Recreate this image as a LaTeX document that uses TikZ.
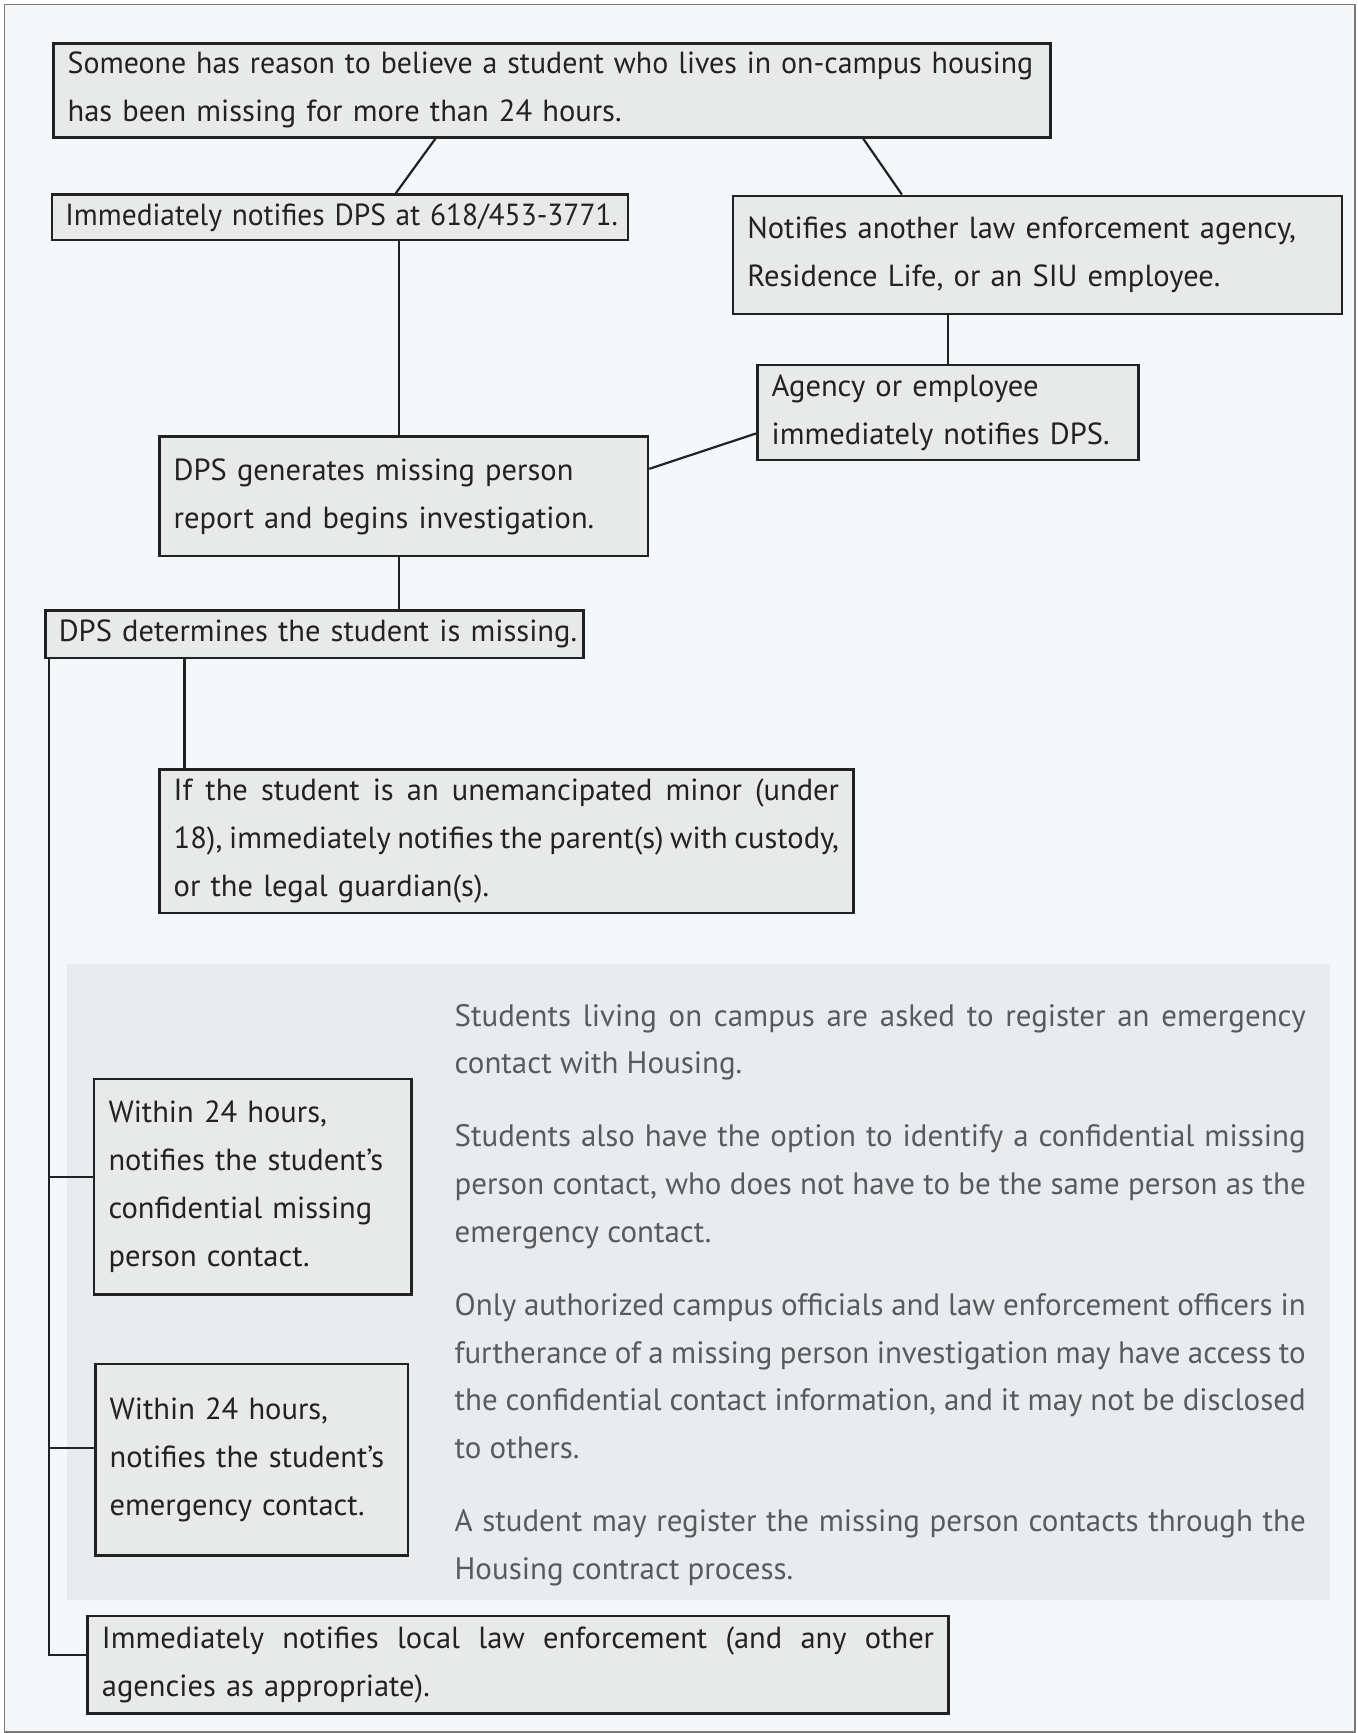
\documentclass[tikz,border=0pt]{standalone}
\usepackage{fontspec}
\setmainfont{PT Sans}
\definecolor{pagebg}{HTML}{F5F8FB}
\definecolor{framec}{HTML}{7A7A7A}
\definecolor{boxfill}{HTML}{E8E9E9}
\definecolor{boxline}{HTML}{222222}
\definecolor{panelfill}{HTML}{E8ECEF}
\definecolor{paneltext}{HTML}{5A5A5A}
\newcommand\bxfont{\fontsize{13.8}{21.65}\selectfont\hyphenpenalty=10000\exhyphenpenalty=10000}
\newcommand\pnfont{\fontsize{14}{21.65}\selectfont\hyphenpenalty=10000\exhyphenpenalty=10000}
\newcommand\ml[1]{\mbox{#1}}
\newcommand\sq[2]{\scalebox{#1}[1]{#2}}
\newcommand\jl[2]{\leavevmode\hbox to #1{\spaceskip=\fontdimen2\font plus 1fil minus .45\fontdimen2\font
  \xspaceskip=\spaceskip\relax #2}}
\begin{document}
\begin{tikzpicture}[x=0.5pt,y=-0.5pt,
  box/.style={draw=boxline, fill=boxfill, line width=1.2pt, inner xsep=6.5pt, inner ysep=0pt,
    align=left, anchor=north west, font=\bxfont, text=boxline},
  conn/.style={draw=boxline, line width=1pt}]
\useasboundingbox (0,0) rectangle (1228,1568);
\fill[white] (0,0) rectangle (1228,1568);
\draw[framec, fill=pagebg, line width=0.6pt] (4,4) rectangle (1226,1567);
\fill[panelfill] (61,872) rectangle (1203,1448);

\node[box, minimum width=451pt, minimum height=42.5pt, text width=438pt] (A) at (47,38)
  {\ml{\sq{0.98}{Someone has reason to believe a student who lives in on-campus housing}}\\\ml{has been missing for more than 24 hours.}};
\node[box, inner xsep=6pt, minimum width=260.5pt, minimum height=20.5pt, text width=248.5pt] (B) at (46,175)
  {\ml{\sq{0.965}{Immediately notifies DPS at 618/453-3771.}}};
\node[box, minimum width=275.5pt, minimum height=53.5pt, text width=262.5pt] (C) at (662,176)
  {\ml{Notifies another law enforcement agency,}\\\ml{Residence Life, or an SIU employee.}};
\node[box, minimum width=172.5pt, minimum height=43pt, text width=159.5pt] (D) at (684,329)
  {\ml{Agency or employee}\\\ml{immediately notifies DPS.}};
\node[box, minimum width=221pt, minimum height=54pt, text width=208pt] (E) at (143,394)
  {\ml{DPS generates missing person}\\\ml{report and begins investigation.}};
\node[box, inner xsep=6pt, minimum width=243.5pt, minimum height=21.5pt, text width=231.5pt] (F) at (40,551)
  {\ml{DPS determines the student is missing.}};
\node[box, minimum width=314pt, minimum height=65pt, text width=301pt] (G) at (143,695)
  {\jl{301pt}{If the student is an unemancipated minor (under}\\\jl{301pt}{18), immediately notifies the parent(s) with custody,}\\\ml{or the legal guardian(s).}};
\node[box, minimum width=143.5pt, minimum height=97.5pt, text width=130.5pt] (H) at (84,975)
  {\ml{Within 24 hours,}\\\ml{notifies the student’s}\\\ml{confidential missing}\\\ml{person contact.}};
\node[box, minimum width=141.5pt, minimum height=86.5pt, text width=128.5pt] (I) at (85,1233)
  {\ml{Within 24 hours,}\\\ml{notifies the student’s}\\\ml{emergency contact.}};
\node[box, minimum width=389.5pt, minimum height=44pt, text width=376.5pt] (J) at (78,1461)
  {\jl{376.5pt}{Immediately notifies local law enforcement (and any other}\\\ml{agencies as appropriate).}};

\node[anchor=north west, inner sep=0pt, text width=385pt, align=justify, font=\pnfont, text=paneltext,
  execute at begin node={\setlength{\parskip}{11.3pt}}] (P) at (411,908)
  {Students living on campus are asked to register an emergency\linebreak contact with Housing.\par
   Students also have the option to identify a confidential missing\linebreak person contact, who does not have to be the same person as the\linebreak emergency contact.\par
   Only authorized campus officials and law enforcement officers in\linebreak furtherance of a missing person investigation may have access to\linebreak the confidential contact information, and it may not be disclosed\linebreak to others.\par
   A student may register the missing person contacts through the\linebreak Housing contract process.};

\coordinate (trunk) at ([xshift=2pt]F.south west);
\draw[conn] ([xshift=173.5pt]A.south west) -- ([xshift=156pt]B.north west);
\draw[conn] ([xshift=367pt]A.south west) -- ([xshift=77pt]C.north west);
\draw[conn] ([xshift=157.5pt]B.south west) -- ([xshift=157.5pt]B.south west |- E.north);
\draw[conn] ([xshift=98pt]C.south west) -- ([xshift=98pt]C.south west |- D.north);
\draw[conn] ([yshift=-9.5pt]D.west) -- ([yshift=12.5pt]E.east);
\draw[conn] ([xshift=109pt]E.south west) -- ([xshift=109pt]E.south west |- F.north);
\draw[conn] ([xshift=63.5pt]F.south west) -- ([xshift=63.5pt]F.south west |- G.north);
\draw[conn] (trunk) |- ([yshift=4.5pt]J.west);
\draw[conn] ([yshift=4.25pt]H.west) -| (trunk);
\draw[conn] ([yshift=5.25pt]I.west) -| (trunk);
\end{tikzpicture}
\end{document}
